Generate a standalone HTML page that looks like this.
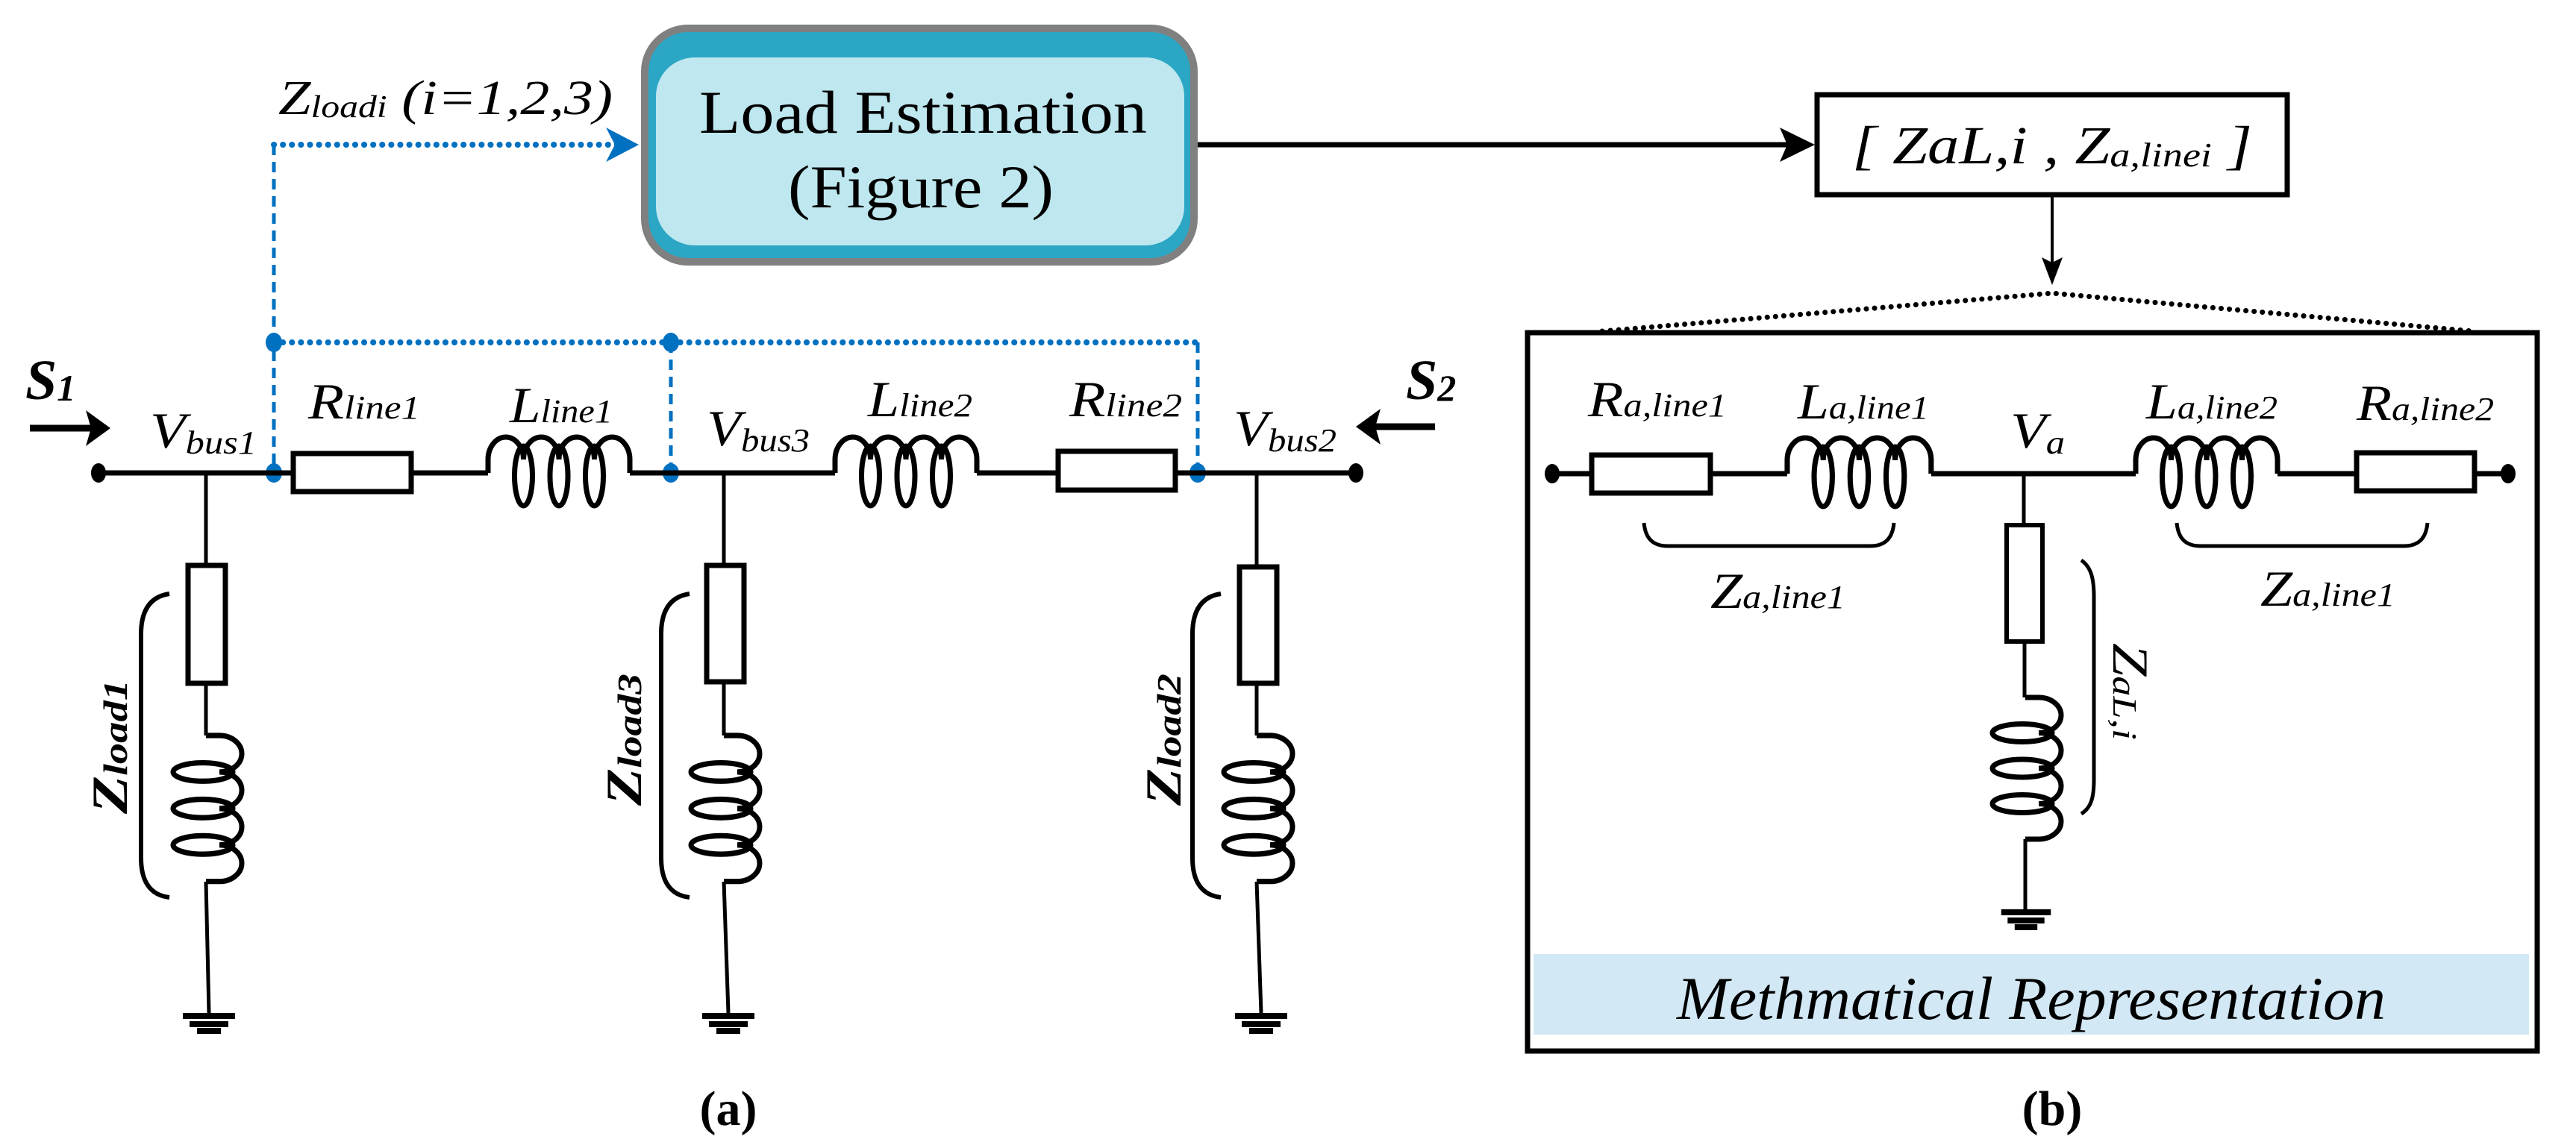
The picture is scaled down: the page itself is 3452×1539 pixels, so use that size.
<!DOCTYPE html>
<html><head><meta charset="utf-8"><style>html,body{margin:0;padding:0;background:#fff}svg{display:block}svg text{font-family:"Liberation Serif","DejaVu Serif",serif}</style></head>
<body>
<svg width="3452" height="1539" viewBox="0 0 3452 1539" xmlns="http://www.w3.org/2000/svg" style="font-family:'Liberation Serif','DejaVu Serif',serif">
<defs>
<g id="coil" fill="none" stroke="#000" stroke-width="7">
<path d="M0,0 V-18 A23.75,30 0 0 1 47.5,-18 A23.75,30 0 0 1 95,-18 A23.75,30 0 0 1 142.5,-18 A23.75,30 0 0 1 190,-18 V0"/>
<ellipse cx="47.5" cy="4" rx="12" ry="40"/>
<ellipse cx="95" cy="4" rx="12" ry="40"/>
<ellipse cx="142.5" cy="4" rx="12" ry="40"/>
</g>
<g id="gnd" fill="#000">
<rect x="-35" y="0" width="70" height="8"/>
<rect x="-26" y="11" width="52" height="8"/>
<rect x="-16" y="20" width="32" height="8"/>
</g>
</defs>

<rect x="864" y="38" width="736" height="313" rx="58" fill="#2ba7c5" stroke="#808080" stroke-width="10"/>
<rect x="879" y="77" width="708" height="252" rx="52" fill="#bee7ef"/>
<text x="1237" y="178" font-size="82" text-anchor="middle" textLength="600" lengthAdjust="spacingAndGlyphs">Load Estimation</text>
<text x="1234" y="278" font-size="82" text-anchor="middle" textLength="356" lengthAdjust="spacingAndGlyphs">(Figure 2)</text>

<line x1="1605" y1="194" x2="2395" y2="194" stroke="#000" stroke-width="7"/>
<path d="M2432,194 L2385,171 L2395,194 L2385,217 Z" fill="#000"/>
<rect x="2435" y="127" width="630" height="134" fill="#fff" stroke="#000" stroke-width="7"/>
<text x="2482" y="219" font-size="72" font-style="italic" textLength="536" lengthAdjust="spacingAndGlyphs">[ ZaL,i  , Z<tspan font-size="46" dy="4">a,linei</tspan><tspan dy="-4"> ]</tspan></text>
<line x1="2750" y1="264" x2="2750" y2="360" stroke="#000" stroke-width="4"/>
<path d="M2750,382 L2736,345 L2750,352 L2764,345 Z" fill="#000"/>
<polyline points="2147,444 2750,393 3314,444" fill="none" stroke="#000" stroke-width="7" stroke-dasharray="0.1 11" stroke-linecap="round"/>

<g stroke="#0070c0" stroke-width="5" fill="none">
<line x1="367" y1="194" x2="830" y2="194" stroke-width="8" stroke-dasharray="0.1 12" stroke-linecap="round"/>
<line x1="367" y1="194" x2="367" y2="634" stroke-dasharray="14 9"/>
<line x1="367" y1="459" x2="1605" y2="459" stroke-width="8" stroke-dasharray="0.1 12" stroke-linecap="round"/>
<line x1="899" y1="459" x2="899" y2="634" stroke-dasharray="14 9"/>
<line x1="1605" y1="459" x2="1605" y2="634" stroke-dasharray="14 9"/>
</g>
<path d="M856,194 L812,171 L824,194 L812,217 Z" fill="#0070c0"/>
<g fill="#0070c0">
<ellipse cx="367" cy="459" rx="11" ry="13"/>
<ellipse cx="899" cy="459" rx="11" ry="13"/>
<ellipse cx="367" cy="634" rx="11" ry="13"/>
<ellipse cx="899" cy="634" rx="11" ry="13"/>
<ellipse cx="1605" cy="634" rx="11" ry="13"/>
</g>
<text x="373" y="153" font-size="66" font-style="italic" textLength="448" lengthAdjust="spacingAndGlyphs">Z<tspan font-size="42" dy="4">loadi</tspan><tspan dy="-4"> (i=1,2,3)</tspan></text>

<g stroke="#000" stroke-width="7" fill="none">
<line x1="132" y1="634" x2="393" y2="634"/>
<rect x="393" y="608" width="158" height="51" fill="#fff"/>
<line x1="551" y1="634" x2="654" y2="634"/>
<line x1="844" y1="634" x2="1119" y2="634"/>
<rect x="1418" y="605" width="157" height="52" fill="#fff"/>
<line x1="1309" y1="634" x2="1418" y2="634"/>
<line x1="1575" y1="634" x2="1817" y2="634"/>
<line x1="276" y1="634" x2="276" y2="756" stroke-width="5"/>
<rect x="252" y="758" width="50" height="158" fill="#fff"/>
<line x1="276" y1="917" x2="276" y2="986" stroke-width="5"/>
<line x1="276" y1="1182" x2="280" y2="1358" stroke-width="5"/>
<path d="M227,796 C200,800 189,820 189,850 V1150 C189,1180 200,1200 227,1203" stroke-width="6"/>
<line x1="970" y1="634" x2="970" y2="756" stroke-width="5"/>
<rect x="947" y="758" width="50" height="156" fill="#fff"/>
<line x1="970" y1="914" x2="970" y2="986" stroke-width="5"/>
<line x1="970" y1="1182" x2="976" y2="1358" stroke-width="5"/>
<path d="M924,796 C897,800 886,820 886,850 V1150 C886,1180 897,1200 924,1203" stroke-width="6"/>
<line x1="1684" y1="634" x2="1684" y2="758" stroke-width="5"/>
<rect x="1661" y="760" width="50" height="156" fill="#fff"/>
<line x1="1684" y1="916" x2="1684" y2="986" stroke-width="5"/>
<line x1="1684" y1="1182" x2="1690" y2="1358" stroke-width="5"/>
<path d="M1636,796 C1609,800 1598,820 1598,850 V1150 C1598,1180 1609,1200 1636,1203" stroke-width="6"/>
</g>
<use href="#coil" transform="translate(654,634)"/>
<use href="#coil" transform="translate(1119,634)"/>
<use href="#coil" transform="translate(276,986) rotate(90) scale(1.03,1)"/>
<use href="#coil" transform="translate(970,986) rotate(90) scale(1.03,1)"/>
<use href="#coil" transform="translate(1684,986) rotate(90) scale(1.03,1)"/>
<use href="#gnd" transform="translate(280,1358)"/>
<use href="#gnd" transform="translate(976,1358)"/>
<use href="#gnd" transform="translate(1690,1358)"/>
<ellipse cx="132" cy="634" rx="10" ry="13" fill="#000"/>
<ellipse cx="1817" cy="634" rx="10" ry="13" fill="#000"/>

<line x1="40" y1="574" x2="125" y2="574" stroke="#000" stroke-width="9"/>
<path d="M148,574 L115,550 L122,574 L115,598 Z" fill="#000"/>
<line x1="1923" y1="572" x2="1840" y2="572" stroke="#000" stroke-width="9"/>
<path d="M1817,572 L1850,548 L1843,572 L1850,596 Z" fill="#000"/>
<text x="34" y="535" font-size="76" font-style="italic" font-weight="bold">S<tspan font-size="50" dy="2">1</tspan></text>
<text x="1884" y="535" font-size="76" font-style="italic" font-weight="bold">S<tspan font-size="50" dy="2">2</tspan></text>

<g font-size="68" font-style="italic">
<text x="201" y="600" textLength="143" lengthAdjust="spacingAndGlyphs">V<tspan font-size="44" dy="8">bus1</tspan></text>
<text x="413" y="561" textLength="150" lengthAdjust="spacingAndGlyphs">R<tspan font-size="44">line1</tspan></text>
<text x="683" y="566" textLength="138" lengthAdjust="spacingAndGlyphs">L<tspan font-size="44">line1</tspan></text>
<text x="947" y="597" textLength="138" lengthAdjust="spacingAndGlyphs">V<tspan font-size="44" dy="8">bus3</tspan></text>
<text x="1163" y="558" textLength="140" lengthAdjust="spacingAndGlyphs">L<tspan font-size="44">line2</tspan></text>
<text x="1433" y="558" textLength="151" lengthAdjust="spacingAndGlyphs">R<tspan font-size="44">line2</tspan></text>
<text x="1653" y="597" textLength="138" lengthAdjust="spacingAndGlyphs">V<tspan font-size="44" dy="8">bus2</tspan></text>
</g>
<g font-size="68" font-style="italic" font-weight="bold">
<text transform="translate(170,1091) rotate(-90)" textLength="180" lengthAdjust="spacingAndGlyphs">Z<tspan font-size="46">load1</tspan></text>
<text transform="translate(859,1080) rotate(-90)" textLength="177" lengthAdjust="spacingAndGlyphs">Z<tspan font-size="46">load3</tspan></text>
<text transform="translate(1582,1080) rotate(-90)" textLength="177" lengthAdjust="spacingAndGlyphs">Z<tspan font-size="46">load2</tspan></text>
</g>
<text x="976" y="1508" font-size="66" font-weight="bold" text-anchor="middle">(a)</text>

<rect x="2047" y="446" width="1353" height="963" fill="none" stroke="#000" stroke-width="7"/>
<rect x="2055" y="1279" width="1334" height="108" fill="#d2e8f5"/>
<text x="2247" y="1366" font-size="82" font-style="italic" textLength="950" lengthAdjust="spacingAndGlyphs">Methmatical Representation</text>
<g stroke="#000" stroke-width="7" fill="none">
<line x1="2080" y1="635" x2="2133" y2="635"/>
<rect x="2133" y="610" width="159" height="51" fill="#fff"/>
<line x1="2292" y1="635" x2="2395" y2="635"/>
<line x1="2588" y1="635" x2="2862" y2="635"/>
<line x1="3052" y1="635" x2="3158" y2="635"/>
<rect x="3158" y="607" width="158" height="51" fill="#fff"/>
<line x1="3316" y1="635" x2="3361" y2="635"/>
<line x1="2712" y1="635" x2="2712" y2="703" stroke-width="5"/>
<rect x="2689" y="704" width="48" height="156" fill="#fff" stroke-width="6"/>
<line x1="2713" y1="860" x2="2713" y2="935" stroke-width="5"/>
<line x1="2714" y1="1125" x2="2714" y2="1219" stroke-width="5"/>
<path d="M2203,701 C2205,722 2215,732 2235,732 H2506 C2526,732 2536,722 2538,701" stroke-width="5"/>
<path d="M2917,701 C2919,722 2929,732 2949,732 H3221 C3241,732 3251,722 3253,701" stroke-width="5"/>
<path d="M2789,751 C2802,760 2806,775 2806,800 V1045 C2806,1070 2802,1083 2789,1091" stroke-width="5"/>
</g>
<use href="#coil" transform="translate(2395,635) scale(1.015,1)"/>
<use href="#coil" transform="translate(2862,635)"/>
<use href="#coil" transform="translate(2714,935) rotate(90)"/>
<use href="#gnd" transform="translate(2715,1219) scale(0.95,1)"/>
<ellipse cx="2080" cy="635" rx="10" ry="13" fill="#000"/>
<ellipse cx="3361" cy="635" rx="10" ry="13" fill="#000"/>
<g font-size="68" font-style="italic">
<text x="2128" y="558" textLength="186" lengthAdjust="spacingAndGlyphs">R<tspan font-size="44">a,line1</tspan></text>
<text x="2409" y="561" textLength="176" lengthAdjust="spacingAndGlyphs">L<tspan font-size="44">a,line1</tspan></text>
<text x="2694" y="600" textLength="73" lengthAdjust="spacingAndGlyphs">V<tspan font-size="44" dy="8">a</tspan></text>
<text x="2876" y="561" textLength="176" lengthAdjust="spacingAndGlyphs">L<tspan font-size="44">a,line2</tspan></text>
<text x="3158" y="563" textLength="184" lengthAdjust="spacingAndGlyphs">R<tspan font-size="44">a,line2</tspan></text>
<text x="2292" y="815" textLength="181" lengthAdjust="spacingAndGlyphs">Z<tspan font-size="44">a,line1</tspan></text>
<text x="3029" y="812" textLength="181" lengthAdjust="spacingAndGlyphs">Z<tspan font-size="44">a,line1</tspan></text>
<text transform="translate(2832,862) rotate(90)" textLength="130" lengthAdjust="spacingAndGlyphs">Z<tspan font-size="46">aL,i</tspan></text>
</g>
<text x="2750" y="1508" font-size="66" font-weight="bold" text-anchor="middle">(b)</text>
</svg>
</body></html>
